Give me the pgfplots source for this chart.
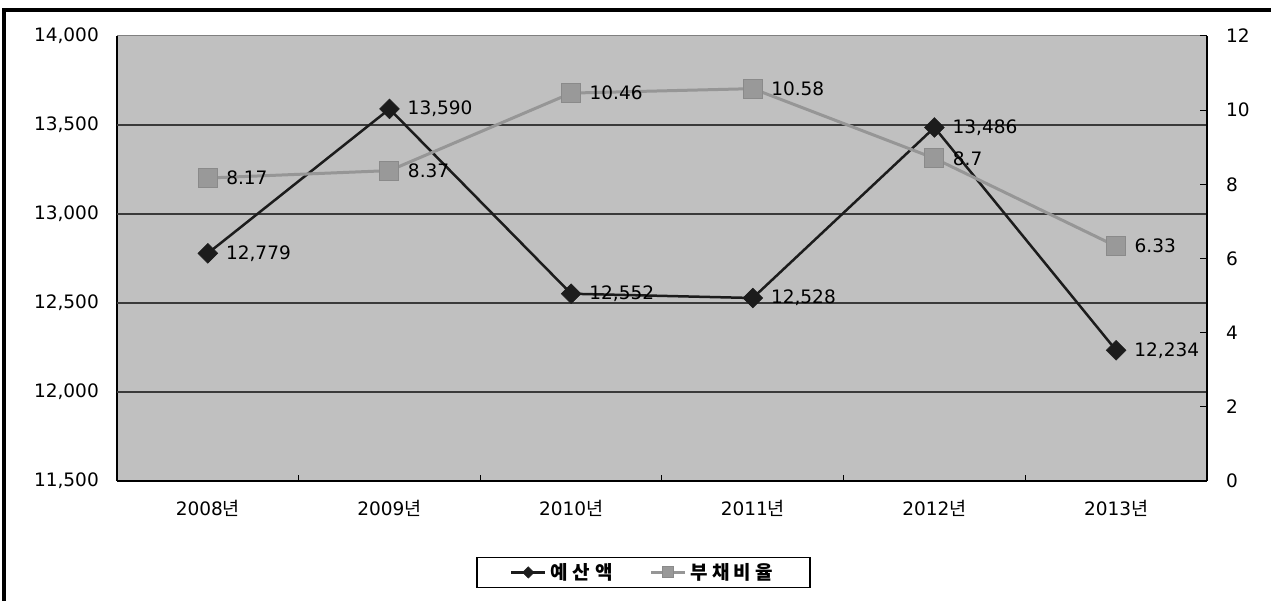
\documentclass[border=0pt]{standalone}
\usepackage{pgfplots}
\pgfplotsset{compat=1.18}
\usepackage{pgfplotstable}
\usepackage{fontspec}
\setmainfont{DejaVu Sans}
\newfontfamily\kr{Noto Sans CJK KR}

\definecolor{plotbg}{HTML}{C0C0C0}
\definecolor{gridc}{HTML}{3A3A3A}
\definecolor{budget}{HTML}{1C1C1C}
\definecolor{debtline}{HTML}{969696}
\definecolor{debtfill}{HTML}{999999}
\definecolor{debtdraw}{HTML}{8A8A8A}

% 예산액
\pgfplotstableread{
x y lab
0 12779 12,779
1 13590 13,590
2 12552 12,552
3 12528 12,528
4 13486 13,486
5 12234 12,234
}\budgettab

% 부채비율
\pgfplotstableread{
x y lab
0 8.17 8.17
1 8.37 8.37
2 10.46 10.46
3 10.58 10.58
4 8.7 8.7
5 6.33 6.33
}\debttab

\begin{document}
\begin{tikzpicture}[x=1pt,y=1pt]
\useasboundingbox (0,0) rectangle (1271,601);
\draw[line width=3.5pt] (4,0) -- (4,591) -- (1271,591);

\pgfplotsset{
  every tick label/.append style={font=\fontsize{18.5}{22}\selectfont},
  /pgf/number format/assume math mode=true,
}

% left axis: 예산액
\begin{axis}[
  at={(117pt,120pt)}, anchor=south west,
  scale only axis, width=1090pt, height=445pt,
  xmin=-0.5, xmax=5.5, ymin=11500, ymax=14000,
  axis background/.style={fill=plotbg},
  axis x line*=bottom, axis y line*=left,
  axis line style={black, line width=1.5pt},
  xtick={0,...,5},
  xticklabels={2008{\kr 년},2009{\kr 년},2010{\kr 년},2011{\kr 년},2012{\kr 년},2013{\kr 년}},
  major x tick style={draw=none},
  minor xtick={0.5,1.5,2.5,3.5,4.5},
  minor tick length=6pt,
  minor x tick style={black, line width=1pt},
  xticklabel style={anchor=north, inner sep=0pt, yshift=-19pt},
  ytick={11500,12000,...,14000},
  scaled y ticks=false,
  major y tick style={draw=none},
  yticklabel style={anchor=east, inner sep=0pt, xshift=-18pt},
  y tick label style={/pgf/number format/fixed, /pgf/number format/1000 sep={,}},
  extra y ticks={12000,12500,13000,13500},
  extra y tick labels={},
  extra y tick style={grid=major, major grid style={gridc, line width=1.5pt}},
  clip=false,
]
\addplot[budget, line width=2.5pt, mark=square*, mark size=7pt,
  mark options={rotate=45, fill=budget, draw=budget, line width=0.5pt},
  nodes near coords, point meta=explicit symbolic,
  every node near coord/.append style={anchor=west, xshift=18pt,
    inner sep=0pt, text=black, font=\fontsize{18.5}{22}\selectfont}]
  table[x=x, y=y, meta=lab] {\budgettab};
\draw[gray, line width=1pt] (rel axis cs:0,1) -- (rel axis cs:1,1);
\end{axis}

% right axis: 부채비율
\begin{axis}[
  at={(117pt,120pt)}, anchor=south west,
  scale only axis, width=1090pt, height=445pt,
  xmin=-0.5, xmax=5.5, ymin=0, ymax=12,
  axis x line=none, axis y line*=right,
  axis line style={black, line width=1.5pt},
  ytick={0,2,...,12},
  major tick length=7pt,
  major y tick style={black, line width=1pt},
  yticklabel style={anchor=west, inner sep=0pt, xshift=19pt},
  clip=false,
  legend columns=2,
  legend style={at={(0.483,-0.2056)}, anchor=center,
    draw=black, line width=1.5pt, fill=white,
    inner xsep=33pt, inner ysep=2pt,
    font=\kr\bfseries\fontsize{19}{21}\selectfont,
    nodes={inner sep=4pt},
    /tikz/every even column/.append style={column sep=33pt}},
  legend image code/.code={
    \draw[mark repeat=2, mark phase=2, #1]
      plot coordinates {(0pt,0pt) (17pt,0pt) (34pt,0pt)};},
]
\addplot[debtline, line width=3pt, mark=square*, mark size=9.5pt,
  mark options={fill=debtfill, draw=debtdraw, line width=1pt},
  nodes near coords, point meta=explicit symbolic,
  every node near coord/.append style={anchor=west, xshift=18pt,
    inner sep=0pt, text=black, font=\fontsize{18.5}{22}\selectfont},
  forget plot]
  table[x=x, y=y, meta=lab] {\debttab};
\addlegendimage{budget, line width=2.5pt, mark=square*, mark size=4pt,
  mark options={rotate=45, fill=budget, draw=budget, line width=0.5pt}}
\addlegendentry{예\hspace{5pt}산\hspace{5pt}액}
\addlegendimage{debtline, line width=3pt, mark=square*, mark size=5.5pt,
  mark options={fill=debtfill, draw=debtdraw, line width=1pt}}
\addlegendentry{부\hspace{4pt}채\hspace{4pt}비\hspace{4pt}율}
\end{axis}
\end{tikzpicture}
\end{document}
